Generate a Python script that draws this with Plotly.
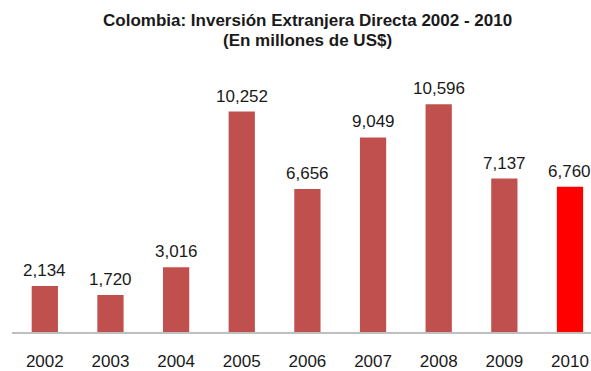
import plotly.graph_objects as go

years = ["2002", "2003", "2004", "2005", "2006", "2007", "2008", "2009", "2010"]
values = [2134, 1720, 3016, 10252, 6656, 9049, 10596, 7137, 6760]
labels = ["2,134", "1,720", "3,016", "10,252", "6,656", "9,049", "10,596", "7,137", "6,760"]
colors = ["#C0504D"] * 8 + ["#FF0000"]
title_lines = ["Colombia: Inversión Extranjera Directa 2002 - 2010", "(En millones de US$)"]

FONT = "Liberation Sans, Arial, Helvetica, sans-serif"

fig = go.Figure()
fig.add_trace(go.Bar(
    x=years, y=values, marker=dict(color=colors, line=dict(width=0)),
    width=0.4, hoverinfo="skip"
))
for i, (v, lab) in enumerate(zip(values, labels)):
    fig.add_annotation(x=i, y=v, xref="x", yref="y", text=lab, showarrow=False,
                       yanchor="bottom", yshift=4,
                       font=dict(family=FONT, size=17, color="#1a1a1a"))

for txt, yp in zip(title_lines, [1.2083, 1.1288]):
    fig.add_annotation(x=0.511, y=yp, xref="paper", yref="paper", text="<b>" + txt + "</b>",
                       showarrow=False, xanchor="center", yanchor="middle",
                       font=dict(family=FONT, size=17, color="#1a1a1a"))

fig.update_layout(
    width=591, height=371,
    margin=dict(l=12, r=0, t=74, b=33),
    paper_bgcolor="white", plot_bgcolor="white",
    showlegend=False,
    xaxis=dict(type="category", range=[-0.5, 8.32], showline=True, linecolor="#BFBFBF", linewidth=2,
               ticks="", ticklabelstandoff=13, showgrid=False, fixedrange=True,
               tickfont=dict(family=FONT, size=17, color="#1a1a1a")),
    yaxis=dict(range=[0, 12000], showticklabels=False, showline=False, ticks="",
               showgrid=False, zeroline=False, fixedrange=True),
)
fig.write_html("out.html")
